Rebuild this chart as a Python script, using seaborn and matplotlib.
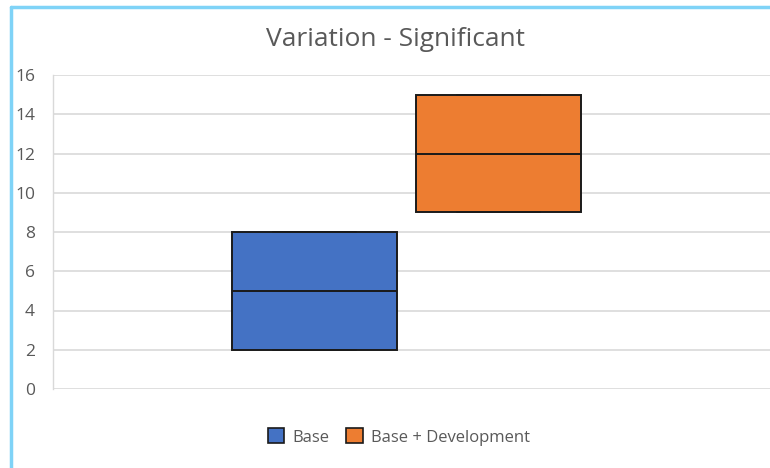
import matplotlib
matplotlib.use("Agg")
import matplotlib.pyplot as plt
from matplotlib.lines import Line2D
from matplotlib.patches import Patch
import seaborn as sns
import pandas as pd

# Data (quartile summary: Q1, median, Q3; whiskers collapse on box)
groups = ["Base", "Base + Development"]
base_vals = [2, 2, 5, 8, 8]
dev_vals = [9, 9, 12, 15, 15]
colors = ["#4472C4", "#ED7D31"]
yticks = [0, 2, 4, 6, 8, 10, 12, 14, 16]
title = "Variation - Significant"

df = pd.DataFrame({
    "cat": ["x"] * (len(base_vals) + len(dev_vals)),
    "group": [groups[0]] * len(base_vals) + [groups[1]] * len(dev_vals),
    "value": base_vals + dev_vals,
})

sns.set_theme(style="white")
plt.rcParams["font.family"] = ["Open Sans", "DejaVu Sans"]

fig = plt.figure(figsize=(7.7, 4.68), dpi=100)
W, H = 770, 468
left, right, top, bottom = 53, 770, 75, 389
ax = fig.add_axes([left / W, 1 - bottom / H, (right - left) / W, (bottom - top) / H])

sns.boxplot(data=df, x="cat", y="value", hue="group", palette=colors,
            width=0.513, gap=0.104, whis=0, showfliers=False,
            linecolor="#1a1a1a", linewidth=1.4, saturation=1, ax=ax, legend=False,
            zorder=3)

ax.set_ylim(0, 16)
ax.set_xlim(-0.493, 0.507)
ax.set_yticks(yticks)
ax.set_yticklabels([str(t) for t in yticks], color="#595959", fontsize=12.5)
ax.set_xticks([])
ax.set_xlabel("")
ax.set_ylabel("")
ax.tick_params(axis="y", length=0, pad=13)
ax.yaxis.grid(True, color="#D9D9D9", linewidth=1.2, zorder=0)
ax.set_axisbelow(True)
for s in ["top", "right", "bottom"]:
    ax.spines[s].set_visible(False)
ax.spines["left"].set_color("#D9D9D9")
ax.spines["left"].set_linewidth(1.0)

fig.text(396 / W, 1 - 40 / H, title, ha="center", va="center",
         fontsize=19, color="#595959")

handles = [Patch(facecolor=c, edgecolor="#1a1a1a", linewidth=1.2, label=g)
           for c, g in zip(colors, groups)]
fig.legend(handles=handles, loc="center", bbox_to_anchor=(399 / W, 1 - 437 / H),
           ncol=2, frameon=False, fontsize=12, handlelength=1.0, handleheight=1.0,
           handletextpad=0.5, columnspacing=1.0, labelcolor="#595959")

# Light blue frame (left and top edges visible)
frame_color = "#7FD3F7"
fig.add_artist(Line2D([11 / W, 11 / W], [0, 1 - 7 / H], transform=fig.transFigure,
                      color=frame_color, linewidth=2.5))
fig.add_artist(Line2D([11 / W, 1], [1 - 7 / H, 1 - 7 / H], transform=fig.transFigure,
                      color=frame_color, linewidth=2.5))

fig.savefig("out.png", dpi=100, facecolor="white")
